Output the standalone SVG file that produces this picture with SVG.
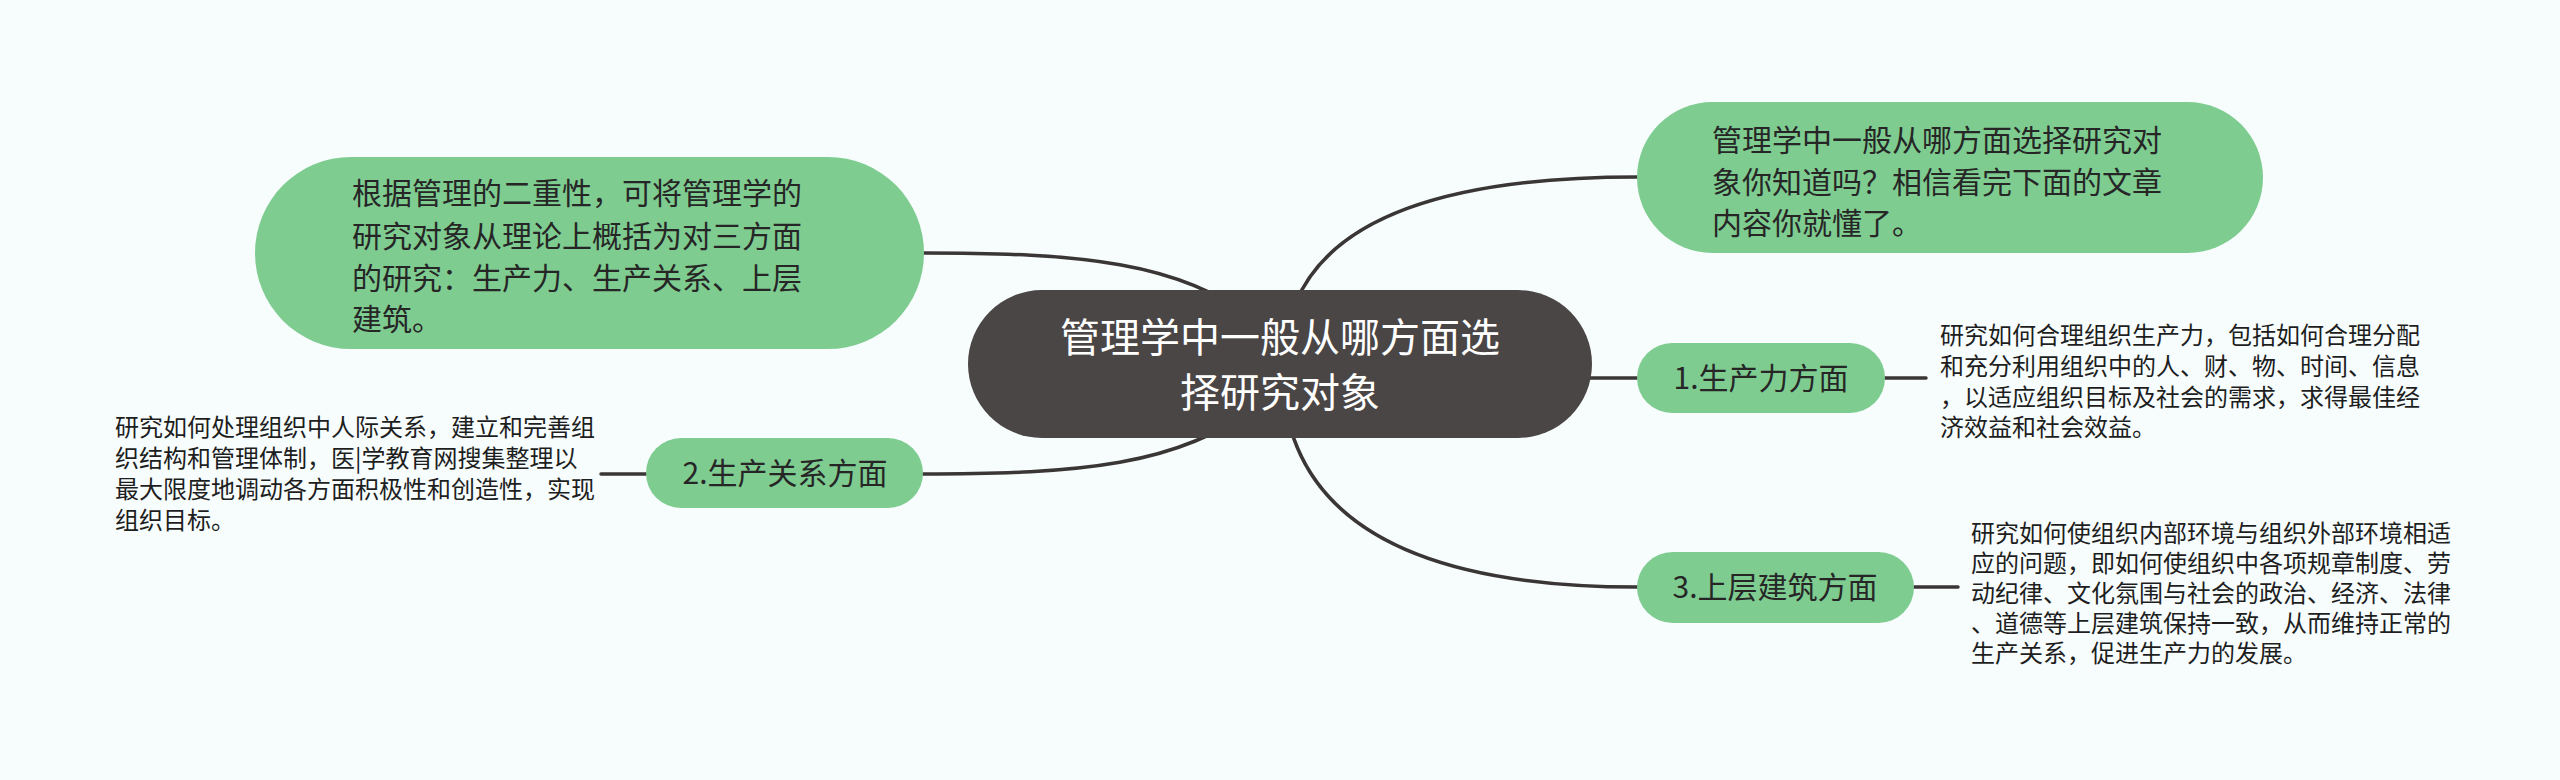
<svg xmlns="http://www.w3.org/2000/svg" width="2560" height="780" viewBox="0 0 2560 780">
  <style>
    .bg { fill: #f7fdfd; }
    .edge { fill: none; stroke: #3b3636; stroke-width: 3.5; stroke-linecap: round; }
    .root { fill: #4b4646; }
    .green { fill: #7fcc91; }
    .rootText { font-family: "Noto Sans CJK SC", "Noto Sans", sans-serif; font-size: 40px; fill: #ffffff; text-anchor: middle; }
    .nodeText { font-family: "Noto Sans CJK SC", "Noto Sans", sans-serif; font-size: 30px; fill: #262626; }
    .mid { text-anchor: middle; }
    .descText { font-family: "Noto Sans CJK SC", "Noto Sans", sans-serif; font-size: 24px; fill: #1e1e1e; }
  </style>
  <rect class="bg" x="0" y="0" width="2560" height="780"/>

  <g id="connectors">
    <path class="edge" d="M1284,365 Q1284,177 1637,177"/>
    <path class="edge" d="M924,253 C1080,253 1180,262 1255,320"/>
    <path class="edge" d="M1580,378 L1638,378"/>
    <path class="edge" d="M923,474 C1080,474 1180,465 1255,407"/>
    <path class="edge" d="M1282,365 Q1282,587 1638,587"/>
    <path class="edge" d="M1885,378 L1926,378"/>
    <path class="edge" d="M601,474 L646,474"/>
    <path class="edge" d="M1914,587 L1958,587"/>
  </g>

  <g id="node-root">
    <rect class="root" x="968" y="290" width="624" height="148" rx="74" ry="74"/>
    <text class="rootText" x="1280" y="352">管理学中一般从哪方面选</text>
    <text class="rootText" x="1280" y="407">择研究对象</text>
  </g>

  <g id="node-intro">
    <rect class="green" x="1637" y="102" width="626" height="151" rx="75.5" ry="75.5"/>
    <text class="nodeText" x="1712" y="151">管理学中一般从哪方面选择研究对</text>
    <text class="nodeText" x="1712" y="193">象你知道吗？相信看完下面的文章</text>
    <text class="nodeText" x="1712" y="234">内容你就懂了。</text>
  </g>

  <g id="node-summary">
    <rect class="green" x="255" y="157" width="669" height="192" rx="96" ry="96"/>
    <text class="nodeText" x="352" y="204">根据管理的二重性，可将管理学的</text>
    <text class="nodeText" x="352" y="247">研究对象从理论上概括为对三方面</text>
    <text class="nodeText" x="352" y="289">的研究：生产力、生产关系、上层</text>
    <text class="nodeText" x="352" y="330">建筑。</text>
  </g>

  <g id="node-1">
    <rect class="green" x="1637" y="343" width="248" height="70" rx="35" ry="35"/>
    <text class="nodeText mid" x="1761" y="389">1.生产力方面</text>
  </g>

  <g id="desc-1">
    <text class="descText" x="1940" y="344">研究如何合理组织生产力，包括如何合理分配</text>
    <text class="descText" x="1940" y="375">和充分利用组织中的人、财、物、时间、信息</text>
    <text class="descText" x="1940" y="406">，以适应组织目标及社会的需求，求得最佳经</text>
    <text class="descText" x="1940" y="436">济效益和社会效益。</text>
  </g>

  <g id="node-2">
    <rect class="green" x="646" y="438" width="277" height="70" rx="35" ry="35"/>
    <text class="nodeText mid" x="785" y="484">2.生产关系方面</text>
  </g>

  <g id="desc-2">
    <text class="descText" x="115" y="436">研究如何处理组织中人际关系，建立和完善组</text>
    <text class="descText" x="115" y="467">织结构和管理体制，医|学教育网搜集整理以</text>
    <text class="descText" x="115" y="498">最大限度地调动各方面积极性和创造性，实现</text>
    <text class="descText" x="115" y="529">组织目标。</text>
  </g>

  <g id="node-3">
    <rect class="green" x="1637" y="552" width="277" height="71" rx="35.5" ry="35.5"/>
    <text class="nodeText mid" x="1775" y="598">3.上层建筑方面</text>
  </g>

  <g id="desc-3">
    <text class="descText" x="1971" y="542">研究如何使组织内部环境与组织外部环境相适</text>
    <text class="descText" x="1971" y="572">应的问题，即如何使组织中各项规章制度、劳</text>
    <text class="descText" x="1971" y="602">动纪律、文化氛围与社会的政治、经济、法律</text>
    <text class="descText" x="1971" y="632">、道德等上层建筑保持一致，从而维持正常的</text>
    <text class="descText" x="1971" y="662">生产关系，促进生产力的发展。</text>
  </g>
</svg>
